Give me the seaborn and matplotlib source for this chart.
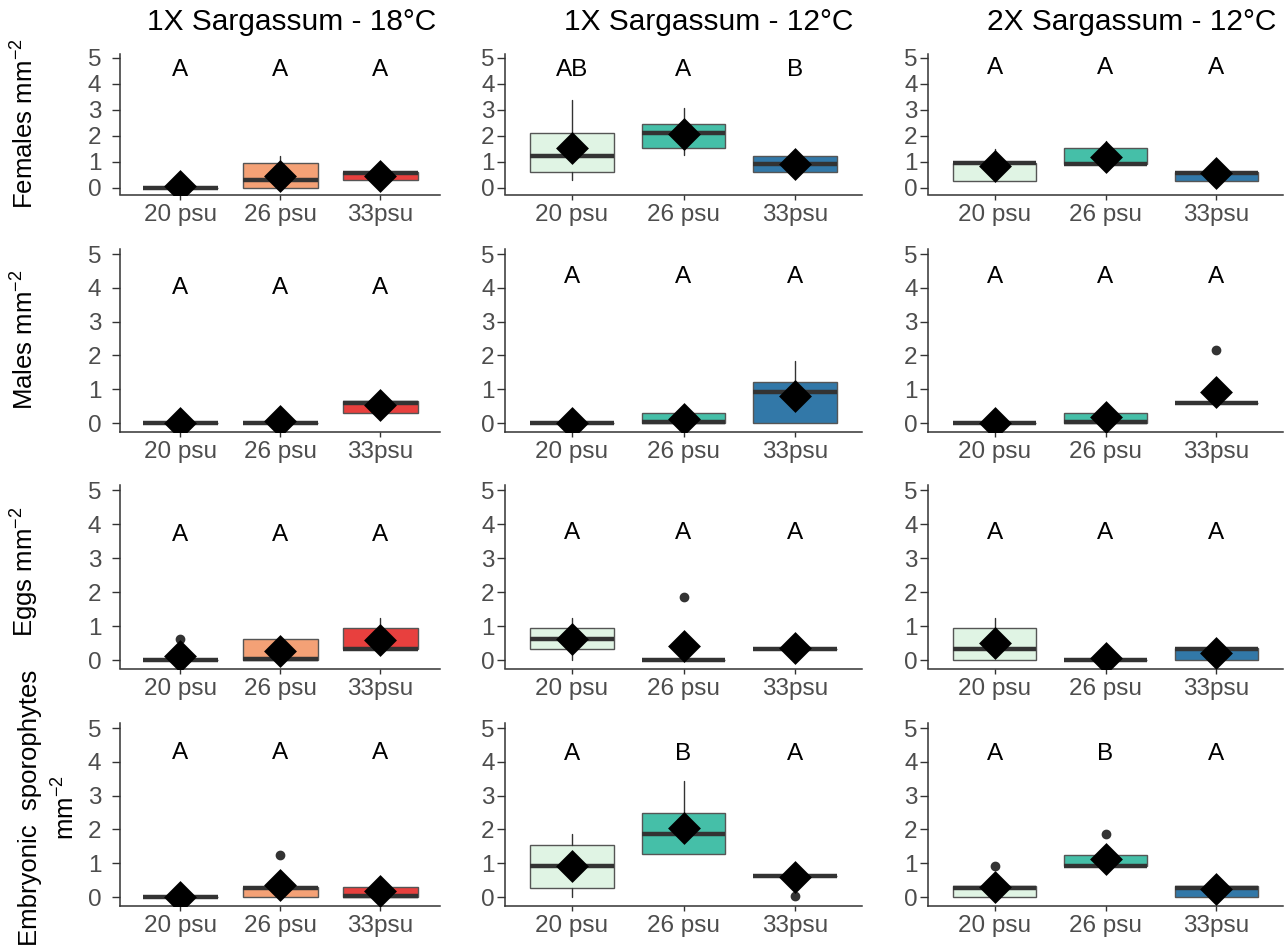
import matplotlib
matplotlib.use("Agg")
import matplotlib.pyplot as plt
import numpy as np
import pandas as pd
import seaborn as sns

sns.set_theme(style="white")
plt.rcParams["font.family"] = ["Liberation Sans", "DejaVu Sans"]
plt.rcParams["mathtext.default"] = "regular"

# ---------------- data ----------------
categories = ["20 psu", "26 psu", "33psu"]
panel_titles = ["1X Sargassum - 18\u00b0C", "1X Sargassum - 12\u00b0C", "2X Sargassum - 12\u00b0C"]
row_labels = ["Females mm$^{-2}$", "Males mm$^{-2}$", "Eggs mm$^{-2}$",
              "Embryonic  sporophytes\nmm$^{-2}$"]

# nested as [row][column][category]
box_q1 = [
    [[0, 0, 0.31], [0.60, 1.53, 0.60], [0.28, 0.92, 0.28]],
    [[0, 0, 0.31], [0, 0, 0], [0, 0, 0.60]],
    [[0, 0, 0.31], [0.31, 0, 0.33], [0, 0, 0]],
    [[0, 0, 0], [0.28, 1.26, 0.63], [0, 0.92, 0]],
]
box_med = [
    [[0, 0.31, 0.56], [1.24, 2.13, 0.93], [0.95, 0.94, 0.58]],
    [[0, 0, 0.60], [0, 0.02, 0.92], [0, 0.02, 0.60]],
    [[0, 0.02, 0.33], [0.62, 0, 0.33], [0.33, 0, 0.31]],
    [[0, 0.27, 0.02], [0.92, 1.88, 0.63], [0.28, 0.93, 0.28]],
]
box_q3 = [
    [[0, 0.95, 0.63], [2.10, 2.47, 1.23], [0.97, 1.55, 0.63]],
    [[0, 0, 0.64], [0, 0.31, 1.22], [0, 0.31, 0.60]],
    [[0, 0.62, 0.94], [0.94, 0, 0.33], [0.94, 0, 0.34]],
    [[0, 0.31, 0.30], [1.53, 2.50, 0.63], [0.32, 1.25, 0.32]],
]
whisker_lo = [
    [[0, 0, 0.31], [0.31, 1.27, 0.60], [0.28, 0.92, 0.28]],
    [[0, 0, 0.31], [0, 0, 0], [0, 0, 0.60]],
    [[0, 0, 0.31], [0, 0, 0.33], [0, 0, 0]],
    [[0, 0, 0], [0, 1.26, 0.63], [0, 0.92, 0]],
]
whisker_hi = [
    [[0, 1.24, 0.63], [3.38, 3.08, 1.23], [1.50, 1.82, 0.63]],
    [[0, 0, 0.64], [0, 0.31, 1.85], [0, 0.31, 0.60]],
    [[0, 0.62, 1.24], [1.24, 0, 0.33], [1.25, 0, 0.34]],
    [[0, 0.31, 0.30], [1.87, 3.42, 0.63], [0.32, 1.25, 0.32]],
]
outliers = [
    [[[], [], []], [[], [], []], [[], [], []]],
    [[[], [], []], [[], [], []], [[], [], [2.17]]],
    [[[0.63], [], []], [[], [1.86], []], [[], [], []]],
    [[[], [1.25], []], [[], [], [0.02]], [[0.93], [1.87], []]],
]
group_mean = [
    [[0.08, 0.47, 0.46], [1.53, 2.06, 0.93], [0.84, 1.20, 0.58]],
    [[0.0, 0.05, 0.52], [0.0, 0.13, 0.80], [0.0, 0.18, 0.93]],
    [[0.12, 0.26, 0.59], [0.62, 0.40, 0.34], [0.51, 0.07, 0.21]],
    [[0.0, 0.36, 0.19], [0.93, 2.04, 0.60], [0.30, 1.12, 0.25]],
]
letters = [
    [["A", "A", "A"], ["AB", "A", "B"], ["A", "A", "A"]],
    [["A", "A", "A"], ["A", "A", "A"], ["A", "A", "A"]],
    [["A", "A", "A"], ["A", "A", "A"], ["A", "A", "A"]],
    [["A", "A", "A"], ["A", "B", "A"], ["A", "B", "A"]],
]

# ---------------- style / layout ----------------
letter_y = [[4.55, 4.55, 4.60], [4.0, 4.33, 4.33], [3.68, 3.75, 3.75], [4.25, 4.24, 4.24]]
palettes = [
    ["#FEE5D9", "#F4A176", "#E8403E"],
    ["#E0F4E4", "#45BFA8", "#3278A8"],
    ["#E0F4E4", "#45BFA8", "#3278A8"],
]
W, H = 1285, 949
col_left = [120, 505, 928]
col_right = [440, 862, 1283]
row_top = [54, 249, 485, 723]
row_bottom = [194.5, 431.5, 668.5, 905.5]
title_x = [292, 709, 1132]
label_y = [124, 340, 572, 808]
ytick_pad = [8, 2.0, 2.0]

diamond = [(0, 1), (1, 0), (0, -1), (-1, 0), (0, 1)]

fig = plt.figure(figsize=(W / 100, H / 100), dpi=100)

for r in range(4):
    for c in range(3):
        l = col_left[c] / W
        w = (col_right[c] - col_left[c]) / W
        b = 1 - row_bottom[r] / H
        h = (row_bottom[r] - row_top[r]) / H
        ax = fig.add_axes([l, b, w, h])
        stats = []
        for k in range(3):
            stats.append(dict(q1=box_q1[r][c][k], med=box_med[r][c][k], q3=box_q3[r][c][k],
                              whislo=whisker_lo[r][c][k], whishi=whisker_hi[r][c][k],
                              fliers=outliers[r][c][k]))
        bp = ax.bxp(stats, positions=[0, 1, 2], widths=0.75, patch_artist=True,
                    showcaps=False, manage_ticks=False,
                    boxprops=dict(edgecolor="#555555", linewidth=1.0),
                    medianprops=dict(color="#333333", linewidth=3.2),
                    whiskerprops=dict(color="#333333", linewidth=1.0),
                    flierprops=dict(marker="o", markerfacecolor="#333333",
                                    markeredgecolor="#333333", markersize=6))
        for patch, col in zip(bp["boxes"], palettes[c]):
            patch.set_facecolor(col)
        df = pd.DataFrame({"pos": [0, 1, 2], "mean": group_mean[r][c]})
        sns.scatterplot(data=df, x="pos", y="mean", marker=diamond, s=560,
                        color="black", linewidth=0, ax=ax, zorder=5, legend=False)
        for k in range(3):
            ax.text(k, letter_y[r][c], letters[r][c][k], ha="center", va="center",
                    fontsize=17.5, color="black")
        ax.set_xlim(-0.6, 2.6)
        ax.set_ylim(-0.25, 5.15)
        ax.set_xticks([0, 1, 2], categories)
        ax.set_yticks(range(6))
        ax.set_xlabel("")
        ax.set_ylabel("")
        sns.despine(ax=ax)
        for s in ["left", "bottom"]:
            ax.spines[s].set_color("#333333")
            ax.spines[s].set_linewidth(1.1)
        ax.tick_params(axis="x", length=3.5, width=1, color="#333333",
                       labelcolor="#4D4D4D", labelsize=17.5, pad=3, bottom=True)
        ax.tick_params(axis="y", length=5.5, width=1, color="#333333",
                       labelcolor="#4D4D4D", labelsize=17.5, pad=ytick_pad[c], left=True)
        ax.grid(False)

for c in range(3):
    fig.text(title_x[c] / W, 1 - 22 / H, panel_titles[c], ha="center", va="center",
             fontsize=21.5, color="black")

for r in range(4):
    x = 25 if r < 3 else 49
    fig.text(x / W, 1 - label_y[r] / H, row_labels[r], rotation=90, ha="center",
             va="center", fontsize=18.5, color="black", multialignment="center",
             linespacing=1.45)

fig.savefig("out.png", dpi=100)
